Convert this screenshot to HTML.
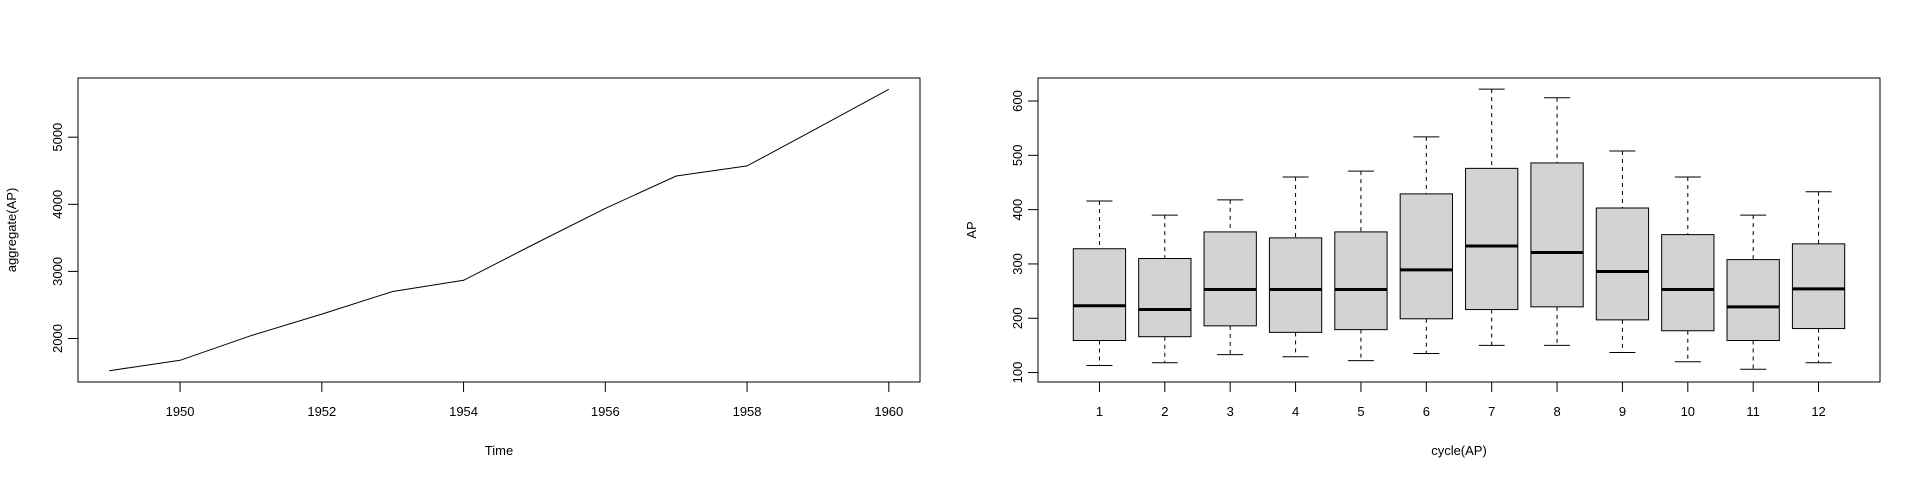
<!DOCTYPE html>
<html><head><meta charset="utf-8"><style>
html,body{margin:0;padding:0;background:#fff;width:1920px;height:480px;overflow:hidden}
svg{display:block}
text{font-family:"Liberation Sans",Arial,sans-serif;font-size:13px;fill:#000}
</style></head><body>
<svg id="root" width="1920" height="480" xmlns="http://www.w3.org/2000/svg">
<g id="left"></g>
<g id="right"></g>
</svg>
<script>
const years = [1949,1950,1951,1952,1953,1954,1955,1956,1957,1958,1959,1960];
const totals = [1520,1676,2042,2364,2700,2867,3408,3939,4421,4572,5140,5714];
const yearTicks = [1950,1952,1954,1956,1958,1960];
const aggTicks = [2000,3000,4000,5000];
const months = [1,2,3,4,5,6,7,8,9,10,11,12];
const whiskerLow = [113,118,133,129,122,135,150,150,137,120,106,118];
const q1 = [159,166,186,174,179,199,216,221,197,177,159,181];
const medians = [223,216,253,253,253,289,333,321,286,253,221,254];
const q3 = [328,310,359,348,359,429,476,486,403,354,308,337];
const whiskerHigh = [416,390,418,460,471,534,622,606,508,460,390,433];
const apTicks = [100,200,300,400,500,600];

const NS='http://www.w3.org/2000/svg';
function mk(parent,tag,attrs,txt){const e=document.createElementNS(NS,tag);for(const k in attrs)e.setAttribute(k,attrs[k]);if(txt!==undefined)e.textContent=txt;parent.appendChild(e);return e;}

const pTop=78,pBot=382;
// left chart
const L=document.getElementById('left');
const lx0=78,lx1=920;
const xmin=1949-0.44,xmax=1960+0.44;
const ymin=1352,ymax=5882;
const sx=v=>lx0+(v-xmin)/(xmax-xmin)*(lx1-lx0);
const sy=v=>pBot-(v-ymin)/(ymax-ymin)*(pBot-pTop);
let fr=mk(L,'rect',{x:lx0,y:pTop,width:lx1-lx0,height:pBot-pTop,fill:'none',stroke:'#000','stroke-width':1});


let pts=years.map((y,i)=>sx(y).toFixed(1)+','+sy(totals[i]).toFixed(1)).join(' ');
let pl=mk(L,'polyline',{points:pts,fill:'none',stroke:'#000','stroke-width':1});


yearTicks.forEach(t=>{
  const x=sx(t);
  let tk=mk(L,'line',{x1:x,x2:x,y1:pBot,y2:pBot+10,stroke:'#000'});
  
  
  let lb=mk(L,'text',{x:x,y:416,'text-anchor':'middle'},t);
  
  
});
aggTicks.forEach(t=>{
  const y=sy(t);
  let tk=mk(L,'line',{x1:lx0,x2:lx0-10,y1:y,y2:y,stroke:'#000'});
  
  
  let lb=mk(L,'text',{x:0,y:0,'text-anchor':'middle',transform:`translate(62,${y}) rotate(-90)`},t);
  
  
});
let xt=mk(L,'text',{x:(lx0+lx1)/2,y:455,'text-anchor':'middle'},'Time');


let yt=mk(L,'text',{x:0,y:0,'text-anchor':'middle',transform:`translate(16,${(pTop+pBot)/2}) rotate(-90)`},'aggregate(AP)');



// right chart
const R=document.getElementById('right');
const rx0=1038,rx1=1880;
const bxmin=0.5-0.44,bxmax=12.5+0.44;
const bymin=82.6,bymax=642.4;
const bx=v=>rx0+(v-bxmin)/(bxmax-bxmin)*(rx1-rx0);
const by=v=>pBot-(v-bymin)/(bymax-bymin)*(pBot-pTop);
const hw=bx(1.4)-bx(1);
months.forEach((m,i)=>{
  const x=bx(m);
  const g=mk(R,'g',{});
  
  
  let w1=mk(g,'line',{x1:x,x2:x,y1:by(whiskerHigh[i]),y2:by(q3[i]),stroke:'#000','stroke-dasharray':'4,4'});
  
  
  let w2=mk(g,'line',{x1:x,x2:x,y1:by(q1[i]),y2:by(whiskerLow[i]),stroke:'#000','stroke-dasharray':'4,4'});
  
  
  let c1=mk(g,'line',{x1:x-13,x2:x+13,y1:by(whiskerHigh[i]),y2:by(whiskerHigh[i]),stroke:'#000'});
  
  
  let c2=mk(g,'line',{x1:x-13,x2:x+13,y1:by(whiskerLow[i]),y2:by(whiskerLow[i]),stroke:'#000'});
  
  
  let b=mk(g,'rect',{x:x-hw,y:by(q3[i]),width:2*hw,height:by(q1[i])-by(q3[i]),fill:'#d3d3d3',stroke:'#000'});
  
  
  let md=mk(g,'line',{x1:x-hw,x2:x+hw,y1:by(medians[i]),y2:by(medians[i]),stroke:'#000','stroke-width':3});
  
  
  let tk=mk(R,'line',{x1:x,x2:x,y1:pBot,y2:pBot+10,stroke:'#000'});
  
  
  let lb=mk(R,'text',{x:x,y:416,'text-anchor':'middle'},m);
  
  
});
let fr2=mk(R,'rect',{x:rx0,y:pTop,width:rx1-rx0,height:pBot-pTop,fill:'none',stroke:'#000'});


apTicks.forEach(t=>{
  const y=by(t);
  let tk=mk(R,'line',{x1:rx0,x2:rx0-10,y1:y,y2:y,stroke:'#000'});
  
  
  let lb=mk(R,'text',{x:0,y:0,'text-anchor':'middle',transform:`translate(${rx0-16},${y}) rotate(-90)`},t);
  
  
});
let xt2=mk(R,'text',{x:(rx0+rx1)/2,y:455,'text-anchor':'middle'},'cycle(AP)');


let yt2=mk(R,'text',{x:0,y:0,'text-anchor':'middle',transform:`translate(976,${(pTop+pBot)/2}) rotate(-90)`},'AP');


</script>
</body></html>
